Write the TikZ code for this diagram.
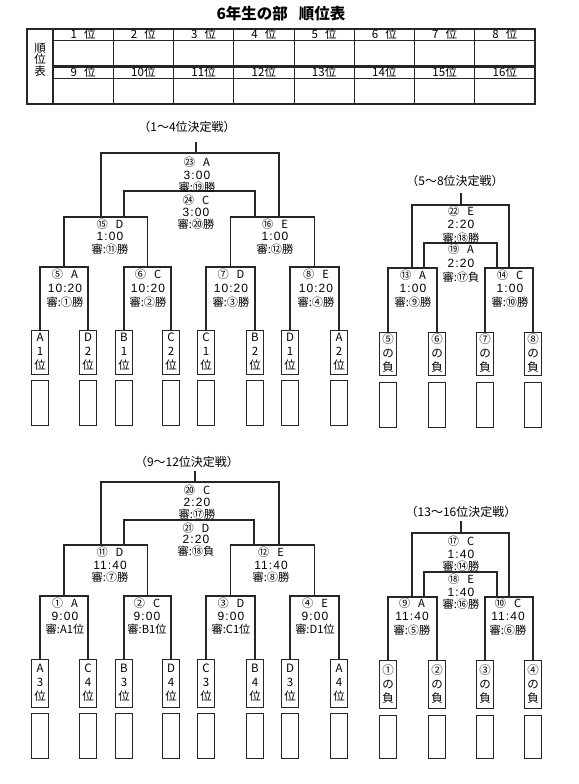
\documentclass[tikz,border=0pt]{standalone}
\usepackage{fontspec}
\setmainfont{Noto Sans CJK JP}
\newfontfamily\tmfont[LetterSpace=9]{Liberation Sans}
\newcommand\mtext[8]{%
  \node[tl] (#1a) at (#2,#3) {#6};
  \node[tm] (#1b) at (#2,#4-0.5) {#7};
  \node[tl] (#1c) at (#2,#5+0.5) {#8};}
\begin{document}
\begin{tikzpicture}[x=1pt,y=-1pt,
  br/.style={draw=black!85,line width=1.2pt},
  tb/.style={draw=black!85,line width=1pt},
  leafbox/.style={draw=black!85,line width=1pt,minimum width=17pt,inner sep=0pt,align=center,font=\fontsize{11.5}{14}\selectfont},
  emptybox/.style={draw=black!85,line width=1pt,minimum width=17pt,inner sep=0pt},
  tl/.style={inner sep=0pt,text height=8pt,text depth=1pt,font=\fontsize{11.2}{12}\selectfont},
  tm/.style={inner sep=0pt,text height=8pt,text depth=0pt,font=\tmfont\fontsize{12}{13}\selectfont},
  ttl/.style={inner sep=0pt,font=\fontsize{12}{13}\selectfont},
  hd/.style={inner sep=0pt,font=\fontsize{11.5}{12}\selectfont}]
\useasboundingbox (0,0) rectangle (578,784);
\fill[white] (0,0) rectangle (578,784);

% ---------- title and table ----------
\node[inner sep=0pt,font=\bfseries\fontsize{15.5}{16}\selectfont] (title) at (281,13.5) {6年生の部\hspace{11pt}順位表};
\draw[line width=2pt,draw=black!85] (27,29) rectangle (535,104);
\draw[line width=1.5pt,draw=black!85] (53,29) -- (53,104);
\draw[line width=2.4pt,draw=black!85] (53,66.5) -- (535,66.5);
\draw[tb,line width=0.9pt] (53,40) -- (535,40);
\draw[tb,line width=0.9pt] (53,78) -- (535,78);
\foreach \i in {1,...,7} \draw[tb] ({53+\i*60.25},29) -- ({53+\i*60.25},104);
\foreach \i/\s in {1/1\hspace{7pt}位,2/2\hspace{7pt}位,3/3\hspace{7pt}位,4/4\hspace{7pt}位,5/5\hspace{7pt}位,6/6\hspace{7pt}位,7/7\hspace{7pt}位,8/8\hspace{7pt}位}
  \node[hd] (ha\i) at ({53+(\i-0.5)*60.25},34.5) {\s};
\foreach \i/\s in {1/9\hspace{7pt}位,2/10位,3/11位,4/12位,5/13位,6/14位,7/15位,8/16位}
  \node[hd] (hb\i) at ({53+(\i-0.5)*60.25},72.5) {\s};
\node[hd,align=center,font=\fontsize{11.5}{10.5}\selectfont] (lab) at (40,59.5) {順\\位\\表};

% ---------- bracket 1 : 1-4 ----------
\node[ttl] (ttl1) at (187,127) {（1～4位決定戦）};
\node[leafbox,minimum height=44pt] (a1) at (40,352) {A\\1\\位};
\node[leafbox,minimum height=44pt] (a2) at (88,352) {D\\2\\位};
\node[leafbox,minimum height=44pt] (a3) at (124,352) {B\\1\\位};
\node[leafbox,minimum height=44pt] (a4) at (171,352) {C\\2\\位};
\node[leafbox,minimum height=44pt] (a5) at (206,352) {C\\1\\位};
\node[leafbox,minimum height=44pt] (a6) at (255,352) {B\\2\\位};
\node[leafbox,minimum height=44pt] (a7) at (290,352) {D\\1\\位};
\node[leafbox,minimum height=44pt] (a8) at (339,352) {A\\2\\位};
\foreach \i/\x in {1/40,2/88,3/124,4/171,5/206,6/255,7/290,8/339}
  \node[emptybox,minimum height=45pt] (ae\i) at (\x,402.5) {};
\coordinate (m5) at (64,267);   \coordinate (m6) at (147.5,267);
\coordinate (m7) at (230.5,267);\coordinate (m8) at (314.5,267);
\coordinate (m15) at (105.5,217); \coordinate (m16) at (272.5,217);
\coordinate (m23) at (196,153); \coordinate (m24) at (189.5,191);
\coordinate (m23l) at (101,217); \coordinate (m23r) at (279,217);
\coordinate (m24l) at (124,217); \coordinate (m24r) at (255,217);
\coordinate (s1) at (196,142);
\draw[br] (a1.north) |- (m5) -| (a2.north);
\draw[br] (a3.north) |- (m6) -| (a4.north);
\draw[br] (a5.north) |- (m7) -| (a6.north);
\draw[br] (a7.north) |- (m8) -| (a8.north);
\draw[br] (m5) |- (m15) -| (m6);
\draw[br] (m7) |- (m16) -| (m8);
\draw[br] (m23l) |- (m23) -| (m23r);
\draw[br] (m24l) |- (m24) -| (m24r);
\draw[br] (s1) -- (m23);
\mtext{t23}{197}{163}{176}{187}{㉓\hspace{8pt}A}{3:00}{審:⑲勝}
\mtext{t24}{196}{201}{213}{224}{㉔\hspace{8pt}C}{3:00}{審:⑳勝}
\mtext{t15}{110}{225}{237}{249}{⑮\hspace{8pt}D}{1:00}{審:⑪勝}
\mtext{t16}{275}{225}{237}{249}{⑯\hspace{8pt}E}{1:00}{審:⑫勝}
\mtext{t5}{65}{275}{289}{302}{⑤\hspace{8pt}A}{10:20}{審:①勝}
\mtext{t6}{148}{275}{289}{302}{⑥\hspace{8pt}C}{10:20}{審:②勝}
\mtext{t7}{231}{275}{289}{302}{⑦\hspace{8pt}D}{10:20}{審:③勝}
\mtext{t8}{316}{275}{289}{302}{⑧\hspace{8pt}E}{10:20}{審:④勝}

% ---------- bracket 2 : 5-8 ----------
\node[ttl] (ttl2) at (455,181) {（5～8位決定戦）};
\node[leafbox,minimum height=43pt] (b1) at (388,353.5) {⑤\\の\\負};
\node[leafbox,minimum height=43pt] (b2) at (437,353.5) {⑥\\の\\負};
\node[leafbox,minimum height=43pt] (b3) at (485,353.5) {⑦\\の\\負};
\node[leafbox,minimum height=43pt] (b4) at (533,353.5) {⑧\\の\\負};
\foreach \i/\x in {1/388,2/437,3/485,4/533}
  \node[emptybox,minimum height=45pt] (be\i) at (\x,404.5) {};
\coordinate (m13) at (412.5,268); \coordinate (m14) at (509,268);
\coordinate (m22) at (461,205); \coordinate (m19) at (460.5,243);
\coordinate (m22l) at (412,268); \coordinate (m22r) at (509,268);
\coordinate (m19l) at (424,268); \coordinate (m19r) at (497,268);
\coordinate (s2) at (461,193);
\draw[br] (b1.north) |- (m13) -| (b2.north);
\draw[br] (b3.north) |- (m14) -| (b4.north);
\draw[br] (m22l) |- (m22) -| (m22r);
\draw[br] (m19l) |- (m19) -| (m19r);
\draw[br] (s2) -- (m22);
\mtext{t22}{461}{212}{225}{238}{㉒\hspace{8pt}E}{2:20}{審:⑱勝}
\mtext{t19}{461}{250}{264}{277}{⑲\hspace{8pt}A}{2:20}{審:⑰負}
\mtext{t13}{413}{276}{289}{302}{⑬\hspace{8pt}A}{1:00}{審:⑨勝}
\mtext{t14}{510}{276}{289}{302}{⑭\hspace{8pt}C}{1:00}{審:⑩勝}

% ---------- bracket 3 : 9-12 ----------
\node[ttl] (ttl3) at (187,462) {（9～12位決定戦）};
\node[leafbox,minimum height=48pt] (c1) at (40,683) {A\\3\\位};
\node[leafbox,minimum height=48pt] (c2) at (88,683) {C\\4\\位};
\node[leafbox,minimum height=48pt] (c3) at (124,683) {B\\3\\位};
\node[leafbox,minimum height=48pt] (c4) at (171,683) {D\\4\\位};
\node[leafbox,minimum height=48pt] (c5) at (206,683) {C\\3\\位};
\node[leafbox,minimum height=48pt] (c6) at (255,683) {B\\4\\位};
\node[leafbox,minimum height=48pt] (c7) at (290,683) {D\\3\\位};
\node[leafbox,minimum height=48pt] (c8) at (339,683) {A\\4\\位};
\foreach \i/\x in {1/40,2/88,3/124,4/171,5/206,6/255,7/290,8/339}
  \node[emptybox,minimum height=45pt] (ce\i) at (\x,735.5) {};
\coordinate (n1) at (64,596);   \coordinate (n2) at (147.5,596);
\coordinate (n3) at (230.5,596);\coordinate (n4) at (314.5,596);
\coordinate (n11) at (105.5,545); \coordinate (n12) at (272.5,545);
\coordinate (n20) at (195,482); \coordinate (n21) at (189,520);
\coordinate (n20l) at (101,545); \coordinate (n20r) at (279,545);
\coordinate (n21l) at (124,545); \coordinate (n21r) at (254,545);
\coordinate (s3) at (195,471);
\draw[br] (c1.north) |- (n1) -| (c2.north);
\draw[br] (c3.north) |- (n2) -| (c4.north);
\draw[br] (c5.north) |- (n3) -| (c6.north);
\draw[br] (c7.north) |- (n4) -| (c8.north);
\draw[br] (n1) |- (n11) -| (n2);
\draw[br] (n3) |- (n12) -| (n4);
\draw[br] (n20l) |- (n20) -| (n20r);
\draw[br] (n21l) |- (n21) -| (n21r);
\draw[br] (s3) -- (n20);
\mtext{t20}{197}{491}{503}{514}{⑳\hspace{8pt}C}{2:20}{審:⑰勝}
\mtext{t21}{196}{529}{540}{551}{㉑\hspace{8pt}D}{2:20}{審:⑱負}
\mtext{t11}{110}{553}{566}{577}{⑪\hspace{8pt}D}{11:40}{審:⑦勝}
\mtext{t12}{271}{553}{566}{577}{⑫\hspace{8pt}E}{11:40}{審:⑧勝}
\mtext{t1}{65}{604}{617}{629}{①\hspace{8pt}A}{9:00}{審:A1位}
\mtext{t2}{147}{604}{617}{629}{②\hspace{8pt}C}{9:00}{審:B1位}
\mtext{t3}{231}{604}{617}{629}{③\hspace{8pt}D}{9:00}{審:C1位}
\mtext{t4}{315}{604}{617}{629}{④\hspace{8pt}E}{9:00}{審:D1位}

% ---------- bracket 4 : 13-16 ----------
\node[ttl] (ttl4) at (461,512) {（13～16位決定戦）};
\node[leafbox,minimum height=48pt] (d1) at (388,684) {①\\の\\負};
\node[leafbox,minimum height=48pt] (d2) at (437,684) {②\\の\\負};
\node[leafbox,minimum height=48pt] (d3) at (485,684) {③\\の\\負};
\node[leafbox,minimum height=48pt] (d4) at (533,684) {④\\の\\負};
\foreach \i/\x in {1/388,2/437,3/485,4/533}
  \node[emptybox,minimum height=43pt] (de\i) at (\x,736.5) {};
\coordinate (n9) at (412.5,597); \coordinate (n10) at (509,597);
\coordinate (n17) at (461,533); \coordinate (n18) at (460.5,572);
\coordinate (n17l) at (412,597); \coordinate (n17r) at (509,597);
\coordinate (n18l) at (424,597); \coordinate (n18r) at (497,597);
\coordinate (s4) at (461,521);
\draw[br] (d1.north) |- (n9) -| (d2.north);
\draw[br] (d3.north) |- (n10) -| (d4.north);
\draw[br] (n17l) |- (n17) -| (n17r);
\draw[br] (n18l) |- (n18) -| (n18r);
\draw[br] (s4) -- (n17);
\mtext{t17}{461}{542}{555}{566}{⑰\hspace{8pt}C}{1:40}{審:⑭勝}
\mtext{t18}{461}{580}{593}{604}{⑱\hspace{8pt}E}{1:40}{審:⑯勝}
\mtext{t9}{412}{604}{617}{630}{⑨\hspace{8pt}A}{11:40}{審:⑤勝}
\mtext{t10}{508}{604}{617}{630}{⑩\hspace{8pt}C}{11:40}{審:⑥勝}
\end{tikzpicture}
\end{document}
